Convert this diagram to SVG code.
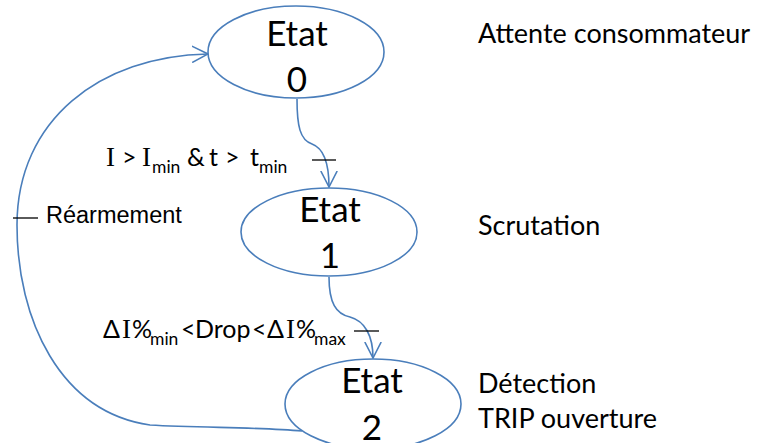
<svg xmlns="http://www.w3.org/2000/svg" width="757" height="443" viewBox="0 0 757 443">
<style>
.node{fill:#fff;stroke:#4a7ebb;stroke-width:1.6}
.edge{fill:none;stroke:#4a7ebb;stroke-width:1.6}
.big{font-family:Lato,"Liberation Sans",sans-serif;font-size:35px;fill:#000;text-anchor:middle}
.lbl{font-family:Lato,"Liberation Sans",sans-serif;font-size:27px;fill:#000}
.cond{font-family:Lato,"Liberation Sans",sans-serif;font-size:25px;fill:#000}
.sub{font-size:17.5px}
.ser{font-family:"Liberation Serif",serif;font-size:27px}
.tick{stroke:#000;stroke-width:1.3}
.rea{font-family:"Liberation Sans",Arial,sans-serif;font-size:23.5px;fill:#000}
</style>
<defs>
<marker id="arr" markerUnits="userSpaceOnUse" viewBox="0 0 17 18" refX="16" refY="9" markerWidth="17" markerHeight="18" orient="auto">
<path d="M0,0.8 L16,9 L0,17.2" fill="none" stroke="#4a7ebb" stroke-width="1.6"/>
</marker>
</defs>
<g id="connectors">
<path class="edge" d="M297,99 C297,126 300,140 312,144 C323,148 329,162 329,187" marker-end="url(#arr)"/>
<path class="edge" d="M329,277 C329,303 336,314 350,317 C365,321 373,336 373,358" marker-end="url(#arr)"/>
<path class="edge" d="M302,431 C260,427 200,428 150,425 C60,412 17,320 17,225 C17,120 100,56 208,54" marker-end="url(#arr)"/>
<line class="tick" x1="312" y1="160" x2="336" y2="160"/>
<line class="tick" x1="354" y1="331" x2="379" y2="331"/>
<line class="tick" x1="13" y1="218" x2="38" y2="218"/>
<text class="cond" y="166"><tspan class="ser" x="106">I</tspan><tspan x="122">&gt;</tspan><tspan class="ser" x="142">I</tspan><tspan class="sub" x="152" y="173">min</tspan><tspan x="187" y="166">&amp;</tspan><tspan x="209">t</tspan><tspan x="225">&gt;</tspan><tspan x="250">t</tspan><tspan class="sub" x="259" y="173">min</tspan></text>
<text class="cond" y="338"><tspan x="103">Δ</tspan><tspan class="ser" x="122">I</tspan><tspan x="132">%</tspan><tspan class="sub" x="150" y="345">min</tspan><tspan x="181" y="338">&lt;</tspan><tspan x="195">Drop</tspan><tspan x="252">&lt;</tspan><tspan x="267">Δ</tspan><tspan class="ser" x="286">I</tspan><tspan x="296">%</tspan><tspan class="sub" x="314" y="345">max</tspan></text>
<text class="rea" x="46" y="223">Réarmement</text>
</g>
<g id="etat0">
<ellipse class="node" cx="296" cy="52" rx="88" ry="46"/>
<text class="big" x="297" y="46">Etat</text>
<text class="big" x="297" y="92">0</text>
</g>
<g id="etat1">
<ellipse class="node" cx="329" cy="232" rx="88" ry="44"/>
<text class="big" x="330" y="222">Etat</text>
<text class="big" x="330" y="268">1</text>
</g>
<g id="etat2">
<ellipse class="node" cx="373" cy="404" rx="88" ry="45"/>
<text class="big" x="372" y="393">Etat</text>
<text class="big" x="372" y="440">2</text>
</g>
<g id="labels">
<text class="lbl" x="478" y="43">Attente consommateur</text>
<text class="lbl" x="478" y="235">Scrutation</text>
<text class="lbl" x="478" y="393">Détection</text>
<text class="lbl" x="478" y="428">TRIP ouverture</text>
</g>
</svg>
